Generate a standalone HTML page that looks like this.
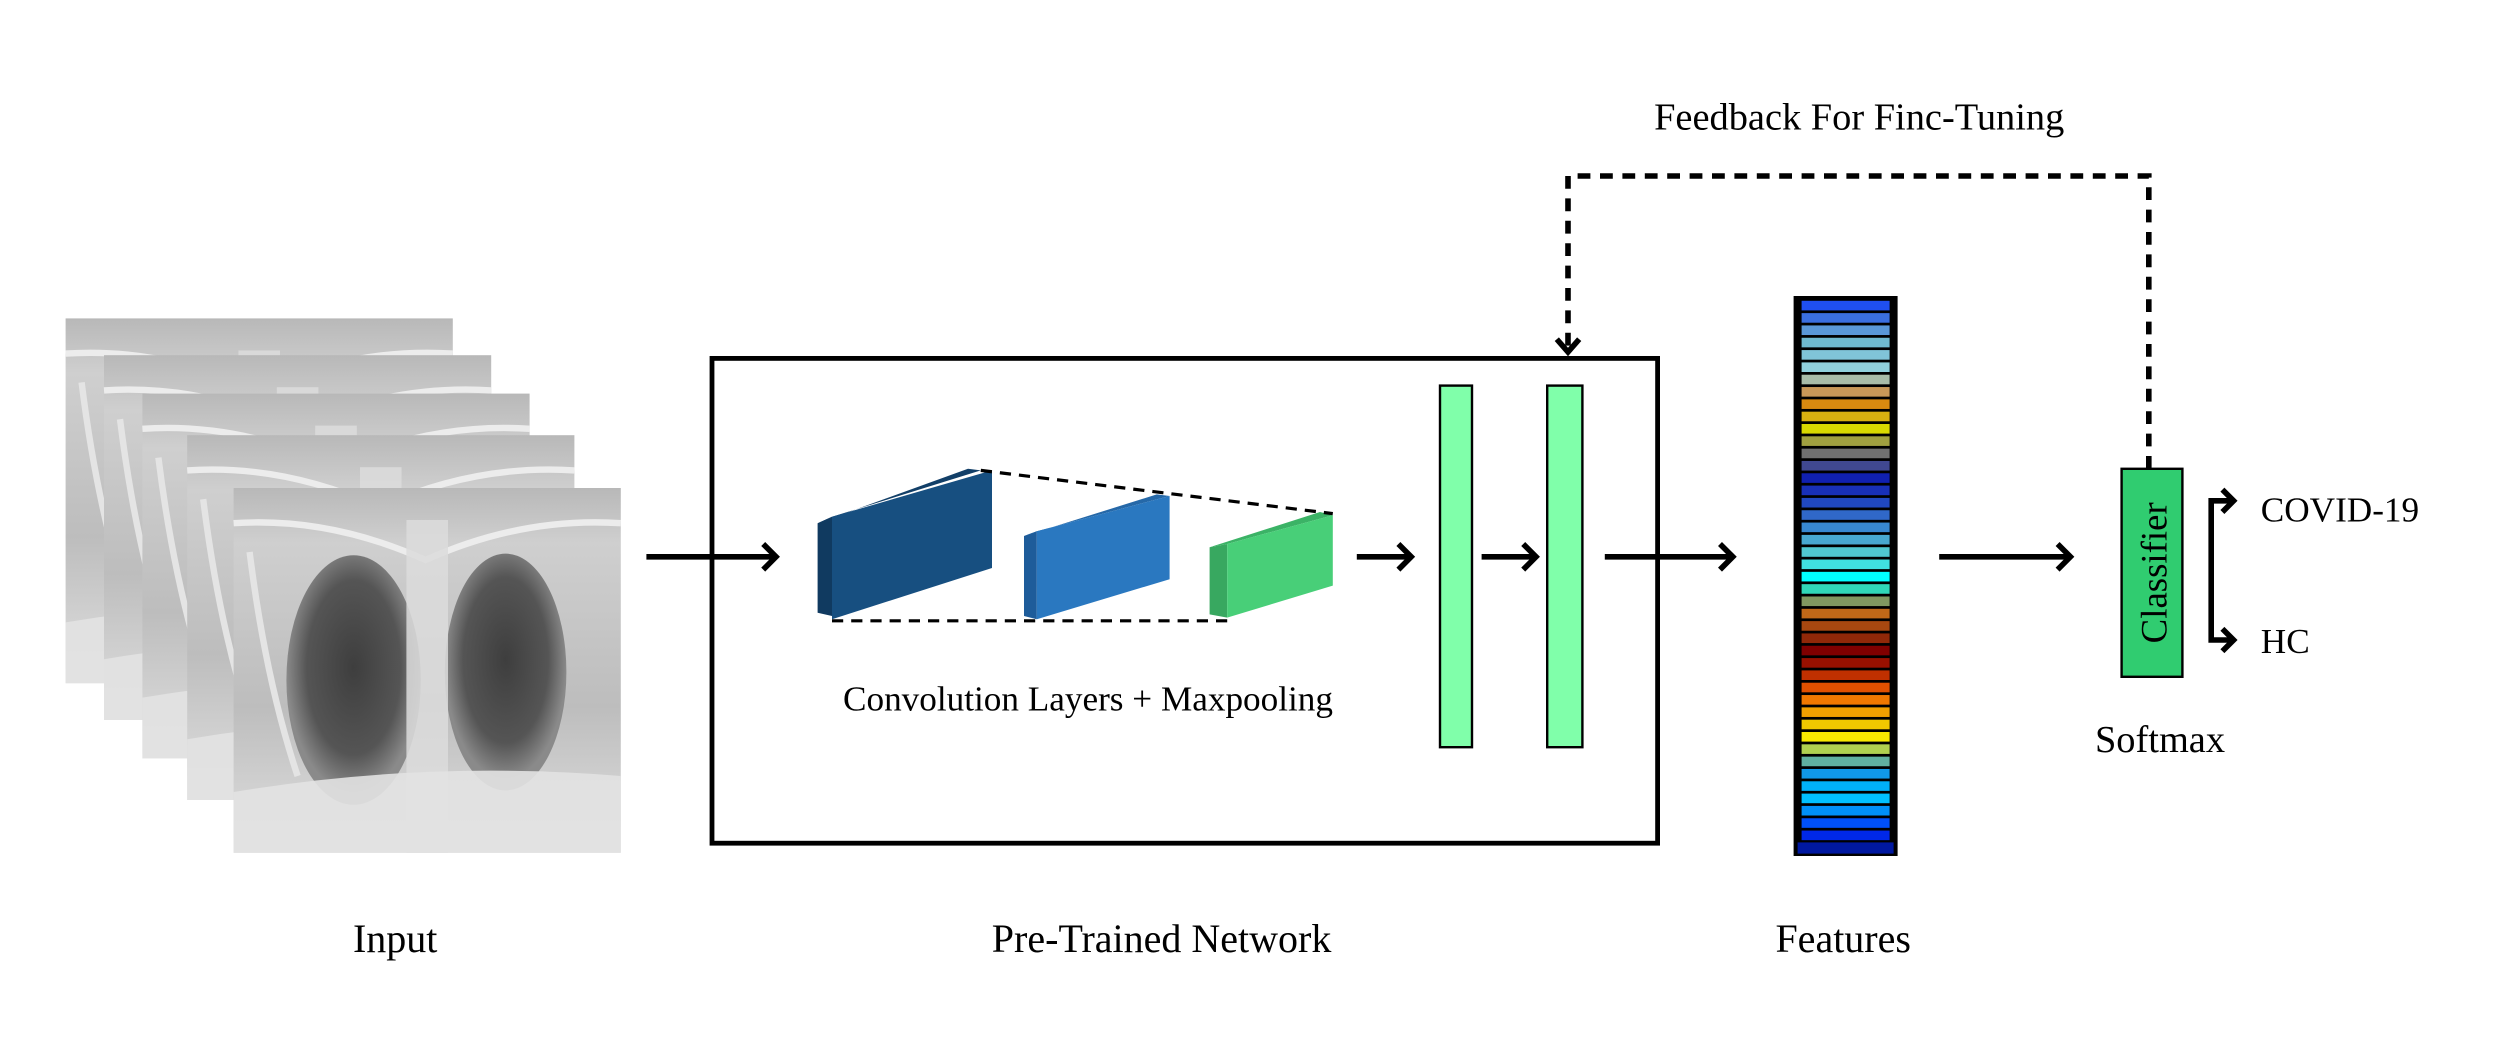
<!DOCTYPE html>
<html><head><meta charset="utf-8"><style>html,body{margin:0;padding:0;background:#fff}svg{display:block}</style></head>
<body>
<svg width="2500" height="1058" viewBox="0 0 1562.5 661.25" xmlns="http://www.w3.org/2000/svg" font-family="Liberation Serif, serif">
<defs>
<linearGradient id="xr" x1="0" y1="0" x2="0" y2="1">
<stop offset="0" stop-color="#b8b8b8"/><stop offset="0.15" stop-color="#cfcfcf"/><stop offset="0.6" stop-color="#bdbdbd"/><stop offset="1" stop-color="#e0e0e0"/></linearGradient>
<radialGradient id="lung" cx="0.5" cy="0.45" r="0.5"><stop offset="0" stop-color="#3e3e3e"/><stop offset="0.7" stop-color="#555"/><stop offset="1" stop-color="#8a8a8a"/></radialGradient>
<g id="xray">
<rect width="242" height="228" fill="url(#xr)"/>
<path d="M0 22 Q60 18 120 45 Q180 18 242 22" stroke="#ececec" stroke-width="4" fill="none"/>
<path d="M10 40 Q20 120 40 180" stroke="#e4e4e4" stroke-width="4" fill="none"/>
<ellipse cx="75" cy="120" rx="42" ry="78" fill="url(#lung)"/>
<ellipse cx="170" cy="115" rx="38" ry="74" fill="url(#lung)"/>
<rect x="108" y="20" width="26" height="208" fill="#dcdcdc" opacity="0.85"/>
<path d="M0 190 Q120 170 242 180 L242 228 L0 228 Z" fill="#e2e2e2" opacity="0.9"/>
</g>
</defs>
<rect width="1562.5" height="661.25" fill="#fff"/>
<use href="#xray" x="41" y="199"/>
<use href="#xray" x="65" y="222"/>
<use href="#xray" x="89" y="246"/>
<use href="#xray" x="117" y="272"/>
<use href="#xray" x="146" y="305"/>
<g stroke="#000" stroke-width="3.5" fill="none">
<line x1="404" y1="348" x2="485" y2="348"/><polyline points="477,340 485,348 477,356"/>
<line x1="848" y1="348" x2="882" y2="348"/><polyline points="874,340 882,348 874,356"/>
<line x1="926" y1="348" x2="960" y2="348"/><polyline points="952,340 960,348 952,356"/>
<line x1="1003" y1="348" x2="1083" y2="348"/><polyline points="1075,340 1083,348 1075,356"/>
<line x1="1212" y1="348" x2="1294" y2="348"/><polyline points="1286,340 1294,348 1286,356"/>
<polyline points="1396,313 1382,313 1382,400 1396,400"/>
<polyline points="1389,306 1396,313 1389,320"/><polyline points="1389,393 1396,400 1389,407"/>
</g>
<rect x="445" y="224" width="591" height="303" fill="none" stroke="#000" stroke-width="3"/>
<polygon points="511,327 520,323 520,385 511,383" fill="#103a60"/>
<polygon points="511,327 605,293 613,294 520,323" fill="#123f68"/>
<polygon points="520,323 620,294 620,355 520,387" fill="#174f80"/>
<polygon points="640,335 648,332 648,387 640,385" fill="#1e5c9a"/>
<polygon points="640,335 723,309 731,310 648,332" fill="#2568a8"/>
<polygon points="648,332 731,310 731,362 648,387" fill="#2a78c0"/>
<polygon points="756,342 767,340 767,386 756,384" fill="#38a860"/>
<polygon points="756,342 825,320 833,322 767,340" fill="#3bb366"/>
<polygon points="767,340 833,322 833,366 767,386" fill="#48cf78"/>
<g stroke="#000" stroke-width="2" stroke-dasharray="7,5">
<line x1="613" y1="294" x2="833" y2="321"/>
<line x1="520" y1="388" x2="772" y2="388"/>
</g>
<rect x="900" y="241" width="20" height="226" fill="#80ffaa" stroke="#000" stroke-width="1.5"/>
<rect x="967" y="241" width="22" height="226" fill="#80ffaa" stroke="#000" stroke-width="1.5"/>
<rect x="1121" y="185" width="65" height="350" fill="#000"/>
<g>
<rect x="1126" y="188.0" width="55" height="6" fill="#1f4ff0"/>
<rect x="1126" y="195.7" width="55" height="6" fill="#3a6fe0"/>
<rect x="1126" y="203.4" width="55" height="6" fill="#5a98d8"/>
<rect x="1126" y="211.1" width="55" height="6" fill="#6fbad0"/>
<rect x="1126" y="218.8" width="55" height="6" fill="#80c4d8"/>
<rect x="1126" y="226.5" width="55" height="6" fill="#90d0dc"/>
<rect x="1126" y="234.2" width="55" height="6" fill="#a8bca8"/>
<rect x="1126" y="241.9" width="55" height="6" fill="#c89858"/>
<rect x="1126" y="249.6" width="55" height="6" fill="#d88a10"/>
<rect x="1126" y="257.3" width="55" height="6" fill="#d8b010"/>
<rect x="1126" y="265.0" width="55" height="6" fill="#d8d800"/>
<rect x="1126" y="272.7" width="55" height="6" fill="#a0a040"/>
<rect x="1126" y="280.4" width="55" height="6" fill="#707070"/>
<rect x="1126" y="288.1" width="55" height="6" fill="#404890"/>
<rect x="1126" y="295.8" width="55" height="6" fill="#1020b0"/>
<rect x="1126" y="303.5" width="55" height="6" fill="#1830b8"/>
<rect x="1126" y="311.2" width="55" height="6" fill="#2048c0"/>
<rect x="1126" y="318.9" width="55" height="6" fill="#3068c8"/>
<rect x="1126" y="326.6" width="55" height="6" fill="#3888d0"/>
<rect x="1126" y="334.3" width="55" height="6" fill="#48a8d0"/>
<rect x="1126" y="342.0" width="55" height="6" fill="#50c8d0"/>
<rect x="1126" y="349.7" width="55" height="6" fill="#40e0e0"/>
<rect x="1126" y="357.4" width="55" height="6" fill="#00ffff"/>
<rect x="1126" y="365.1" width="55" height="6" fill="#30d8b8"/>
<rect x="1126" y="372.8" width="55" height="6" fill="#809860"/>
<rect x="1126" y="380.5" width="55" height="6" fill="#c06818"/>
<rect x="1126" y="388.2" width="55" height="6" fill="#a84810"/>
<rect x="1126" y="395.9" width="55" height="6" fill="#902808"/>
<rect x="1126" y="403.6" width="55" height="6" fill="#800000"/>
<rect x="1126" y="411.3" width="55" height="6" fill="#981000"/>
<rect x="1126" y="419.0" width="55" height="6" fill="#c03000"/>
<rect x="1126" y="426.7" width="55" height="6" fill="#e05000"/>
<rect x="1126" y="434.4" width="55" height="6" fill="#f07800"/>
<rect x="1126" y="442.1" width="55" height="6" fill="#f0a000"/>
<rect x="1126" y="449.8" width="55" height="6" fill="#f0c800"/>
<rect x="1126" y="457.5" width="55" height="6" fill="#f8e800"/>
<rect x="1126" y="465.2" width="55" height="6" fill="#b0d050"/>
<rect x="1126" y="472.9" width="55" height="6" fill="#60b0a0"/>
<rect x="1126" y="480.6" width="55" height="6" fill="#1098e8"/>
<rect x="1126" y="488.3" width="55" height="6" fill="#00b0f8"/>
<rect x="1126" y="496.0" width="55" height="6" fill="#00c0ff"/>
<rect x="1126" y="503.7" width="55" height="6" fill="#0090f8"/>
<rect x="1126" y="511.4" width="55" height="6" fill="#0050f8"/>
<rect x="1126" y="519.1" width="55" height="6" fill="#0028e8"/>
<rect x="1123.5" y="526.5" width="60" height="7" fill="#0018a0"/>
</g>
<polyline points="1343,293 1343,110 980,110 980,217" fill="none" stroke="#000" stroke-width="3.5" stroke-dasharray="8,6"/>
<polyline points="973,212 980,220 987,212" fill="none" stroke="#000" stroke-width="3.5"/>
<rect x="1326" y="293" width="38" height="130" fill="#30cc70" stroke="#000" stroke-width="1.5"/>
<text transform="translate(1354,358) rotate(-90)" text-anchor="middle" font-size="23">Classifier</text>
<text x="1162" y="81" text-anchor="middle" font-size="24">Feedback For Finc-Tuning</text>
<text x="1413" y="326" font-size="22">COVID-19</text>
<text x="1413" y="408" font-size="22">HC</text>
<text x="1350" y="470" text-anchor="middle" font-size="24">Softmax</text>
<text x="680" y="444" text-anchor="middle" font-size="22">Convolution Layers + Maxpooling</text>
<text x="247" y="595" text-anchor="middle" font-size="25">Input</text>
<text x="726" y="595" text-anchor="middle" font-size="25">Pre-Trained Network</text>
<text x="1152" y="595" text-anchor="middle" font-size="25">Features</text>
</svg>
</body></html>
